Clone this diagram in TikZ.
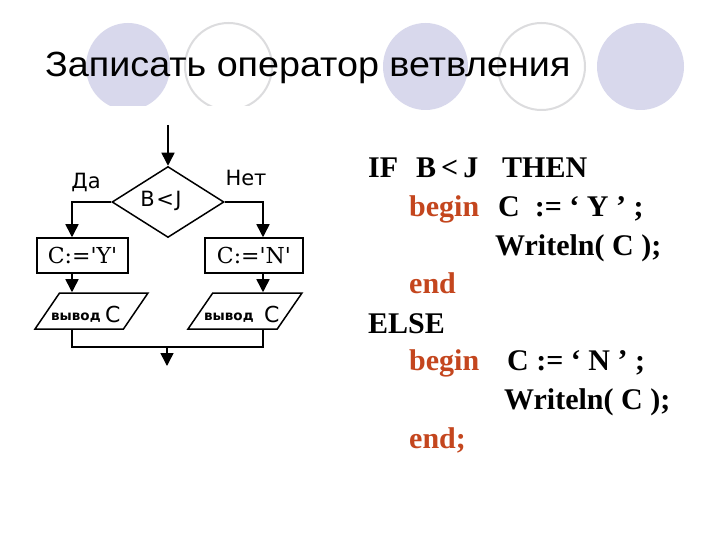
\documentclass[tikz,border=0pt]{standalone}
\usepackage{fontspec}
\setmainfont{Liberation Serif}
\newfontfamily\titlefont{Liberation Sans}
\newfontfamily\fcsans{DejaVu Sans}
\newfontfamily\fcserif{DejaVu Serif}
\usetikzlibrary{shapes.geometric,arrows.meta,calc}
\definecolor{circfill}{RGB}{216,216,236}
\definecolor{circline}{RGB}{220,220,222}
\definecolor{kw}{RGB}{196,70,30}
\tikzset{
  deco/.style={fill=circfill, draw=none},
  decoring/.style={draw=circline, line width=2pt, fill=white},
  fc/.style={draw=black, line width=1.5pt},
  arr/.style={line width=1.5pt, -{Triangle[length=13pt,width=13pt]}},
  ln/.style={line width=1.5pt},
  boxstyle/.style={fc, rectangle, minimum height=35pt, inner sep=0pt},
  parastyle/.style={fc, trapezium, trapezium left angle=69, trapezium right angle=111, trapezium stretches=true, minimum height=36pt, inner sep=1pt},
  code/.style={anchor=base west, inner sep=0pt, font=\fontsize{30}{34}\selectfont\bfseries},
  kwcode/.style={code, text=kw},
  fclabel/.style={inner sep=0pt, font=\fcsans\fontsize{21}{24}\selectfont},
  small/.style={inner sep=0pt, anchor=base west, font=\fcsans\bfseries\fontsize{13.5}{15}\selectfont},
  bigc/.style={inner sep=0pt, anchor=base west, font=\fcsans\fontsize{22}{25}\selectfont}
}
\begin{document}
\begin{tikzpicture}[x=1pt,y=-1pt]
\useasboundingbox (0,0) rectangle (720,540);
\fill[white] (0,0) rectangle (720,540);
% decorative circles
\begin{scope}
\clip (0,0) rectangle (720,106);
\fill[deco] (128,66.5) ellipse [x radius=42, y radius=43.5];
\draw[decoring] (228.5,66.5) ellipse [x radius=43.5, y radius=43.5];
\end{scope}
\fill[deco] (425.5,66.5) ellipse [x radius=42.5, y radius=43.5];
\draw[decoring] (541.5,66.5) ellipse [x radius=43.5, y radius=43.5];
\fill[deco] (640.5,66.5) ellipse [x radius=43.5, y radius=43.5];
% title
\node[anchor=base west, inner sep=0pt, font=\titlefont\fontsize{35}{40}\selectfont] (title) at (45,77) {\scalebox{1.077}[1]{Записать оператор ветвления}};
% flowchart
\coordinate (start) at (168,125);
\coordinate (L) at (72,0);
\coordinate (R) at (263,0);
\node[fc, diamond, minimum width=112pt, minimum height=71pt, inner sep=1pt] (dec) at (168,202) {};
\node[fclabel] (cond) at (161,200.5) {B\kern1.5pt<\kern1.5pt J};
\node[boxstyle, minimum width=91pt, font=\fcserif\fontsize{22}{24}\selectfont] (boxY) at (82.5,255.5) {C:=\textquotesingle Y\textquotesingle};
\node[boxstyle, minimum width=98pt, font=\fcserif\fontsize{22}{24}\selectfont] (boxN) at (254,255.5) {C:=\textquotesingle N\textquotesingle};
\node[parastyle, minimum width=113pt] (paraY) at (91.5,311) {};
\node[parastyle, minimum width=114pt] (paraN) at (245,311) {};
\node[small] (outY) at (51,320) {вывод};
\node[bigc] (cY) at (105,322) {C};
\node[small] (outN) at (204,320) {вывод};
\node[bigc] (cN) at (264,322) {C};
\node[fclabel, anchor=base] (da) at (86,189) {Да};
\node[fclabel, anchor=base] (net) at (246,186) {Нет};
\coordinate (m) at (167,347);
\coordinate (out) at (167,366);
\draw[arr] (start) -- (dec.north);
\draw[arr] (dec.west) -| (boxY.north -| L);
\draw[arr] (dec.east) -| (boxN.north -| R);
\draw[arr] (boxY.south -| L) -- (paraY.north -| L);
\draw[arr] (boxN.south -| R) -- (paraN.north -| R);
\draw[ln] (paraY.south -| L) |- (m) -| (paraN.south -| R);
\draw[arr] (m) -- (out);
% code
\node[code] (c1a) at (368,178) {IF};
\node[code] (c1b) at (416,178) {B\,<\,J};
\node[code] (c1c) at (502,178) {THEN};
\node[kwcode] (c2a) at (409,216) {begin};
\node[code] (c2b) at (498,216) {C\ \ :=\ ‘\ Y\ ’\ ;};
\node[code] (c3) at (495,255) {Writeln( C );};
\node[kwcode] (c4) at (409,293) {end};
\node[code] (c5) at (368,333) {ELSE};
\node[kwcode] (c6a) at (409,370) {begin};
\node[code] (c6b) at (507,370) {C := ‘\ N\ ’\ ;};
\node[code] (c7) at (504,409) {Writeln( C );};
\node[kwcode] (c8) at (409,448) {end;};
\end{tikzpicture}
\end{document}
